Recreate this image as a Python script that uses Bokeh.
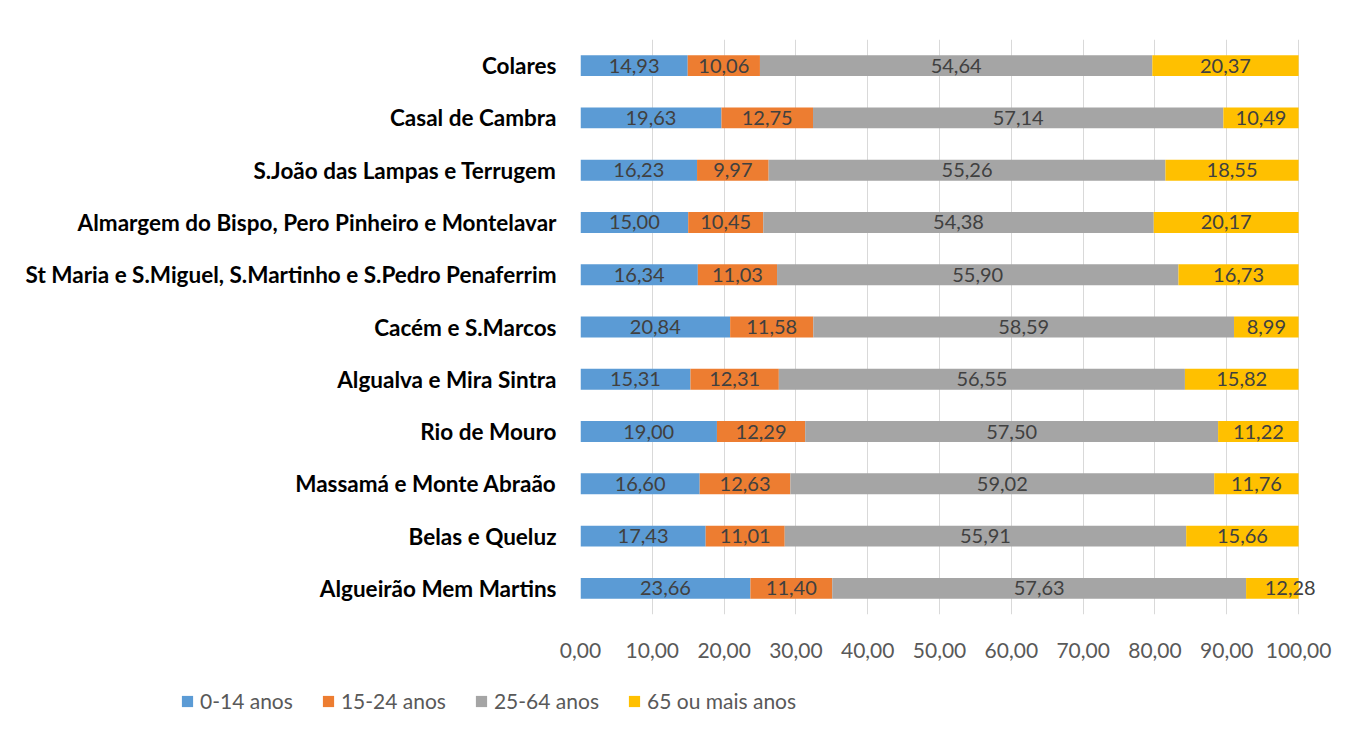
import numpy as np
from bokeh.plotting import figure
from bokeh.layouts import column
from bokeh.models import FactorRange, Range1d, LabelSet, ColumnDataSource, Legend, LegendItem, CustomJSTickFormatter, FixedTicker
from bokeh.core.properties import value
from bokeh.embed import file_html
from bokeh.resources import INLINE

categories = [
    "Colares",
    "Casal de Cambra",
    "S.João das Lampas e Terrugem",
    "Almargem do Bispo, Pero Pinheiro e Montelavar",
    "St Maria e S.Miguel, S.Martinho e S.Pedro Penaferrim",
    "Cacém e S.Marcos",
    "Algualva e Mira Sintra",
    "Rio de Mouro",
    "Massamá e Monte Abraão",
    "Belas e Queluz",
    "Algueirão Mem Martins",
]
a0_14 = [14.93, 19.63, 16.23, 15.00, 16.34, 20.84, 15.31, 19.00, 16.60, 17.43, 23.66]
a15_24 = [10.06, 12.75, 9.97, 10.45, 11.03, 11.58, 12.31, 12.29, 12.63, 11.01, 11.40]
a25_64 = [54.64, 57.14, 55.26, 54.38, 55.90, 58.59, 56.55, 57.50, 59.02, 55.91, 57.63]
a65 = [20.37, 10.49, 18.55, 20.17, 16.73, 8.99, 15.82, 11.22, 11.76, 15.66, 12.28]
series_names = ["0-14 anos", "15-24 anos", "25-64 anos", "65 ou mais anos"]
colors = ["#5B9BD5", "#ED7D31", "#A5A5A5", "#FFC000"]
ticks = [0, 10, 20, 30, 40, 50, 60, 70, 80, 90, 100]
AXIS_MAX = 100

vals = np.array([a0_14, a15_24, a25_64, a65])
cums = np.cumsum(vals, axis=0)
starts = cums - vals
centers = starts + vals / 2

p = figure(
    y_range=FactorRange(factors=list(reversed(categories)), range_padding=0),
    x_range=Range1d(0, 105),
    width=1336, height=668,
    min_border_left=580, min_border_top=39, min_border_right=2, min_border_bottom=54,
    output_backend="svg", toolbar_location=None,
)
p.outline_line_color = None
p.frame_align = False

for i in range(4):
    src = ColumnDataSource(dict(
        y=categories,
        left=np.minimum(starts[i], AXIS_MAX),
        right=np.minimum(cums[i], AXIS_MAX),
    ))
    p.hbar(y="y", left="left", right="right", height=0.4, fill_color=colors[i], line_color=None, source=src)

xs, ys, txt = [], [], []
for i in range(4):
    for j, c in enumerate(categories):
        xs.append(centers[i, j])
        ys.append(c)
        txt.append(f"{vals[i, j]:.2f}".replace(".", ","))
lsrc = ColumnDataSource(dict(x=xs, y=ys, t=txt))
labels = LabelSet(x="x", y="y", text="t", source=lsrc, text_align="center", text_baseline="middle",
                  text_font=value("Lato"), text_font_size="20px", text_color="#404040")
p.add_layout(labels)

p.xgrid.grid_line_color = "#D9D9D9"
p.xgrid.grid_line_width = 1
p.ygrid.grid_line_color = None
p.xaxis.ticker = FixedTicker(ticks=ticks)
p.xaxis.formatter = CustomJSTickFormatter(code="return tick.toFixed(2).replace('.', ',');")
p.xaxis.axis_line_color = None
p.xaxis.major_tick_line_color = None
p.xaxis.minor_tick_line_color = None
p.xaxis.major_label_text_font = "Lato"
p.xaxis.major_label_text_font_size = "21px"
p.xaxis.major_label_text_color = "#595959"
p.xaxis.major_label_standoff = 22

p.yaxis.axis_line_color = None
p.yaxis.major_tick_line_color = None
p.yaxis.minor_tick_line_color = None
p.yaxis.major_label_text_font = "Lato"
p.yaxis.major_label_text_font_style = "bold"
p.yaxis.major_label_text_font_size = "22.5px"
p.yaxis.major_label_text_color = "#000000"
p.yaxis.major_label_standoff = 18

# legend strip (proxy swatches lie outside the visible range)
lf = figure(width=1336, height=50, x_range=Range1d(0, 1), y_range=Range1d(0, 1),
            x_axis_type=None, y_axis_type=None, min_border=0,
            output_backend="svg", toolbar_location=None)
lf.frame_align = False
lf.outline_line_color = None
lf.xgrid.visible = False
lf.ygrid.visible = False
proxies = []
for c in colors:
    proxies.append(lf.quad(left=[-10], right=[-9], top=[-9], bottom=[-10], fill_color=c, line_color=None))
legend = Legend(
    items=[LegendItem(label=n, renderers=[r]) for n, r in zip(series_names, proxies)],
    location=(180, 5), orientation="horizontal",
    glyph_width=14, glyph_height=14, label_standoff=6, spacing=28,
    label_text_font="Lato", label_text_font_size="21px", label_text_color="#595959",
    padding=0, margin=0, border_line_color=None, background_fill_alpha=0,
)
lf.add_layout(legend, "center")

layout = column(p, lf, spacing=0)
open("out.html", "w").write(file_html(layout, INLINE))
